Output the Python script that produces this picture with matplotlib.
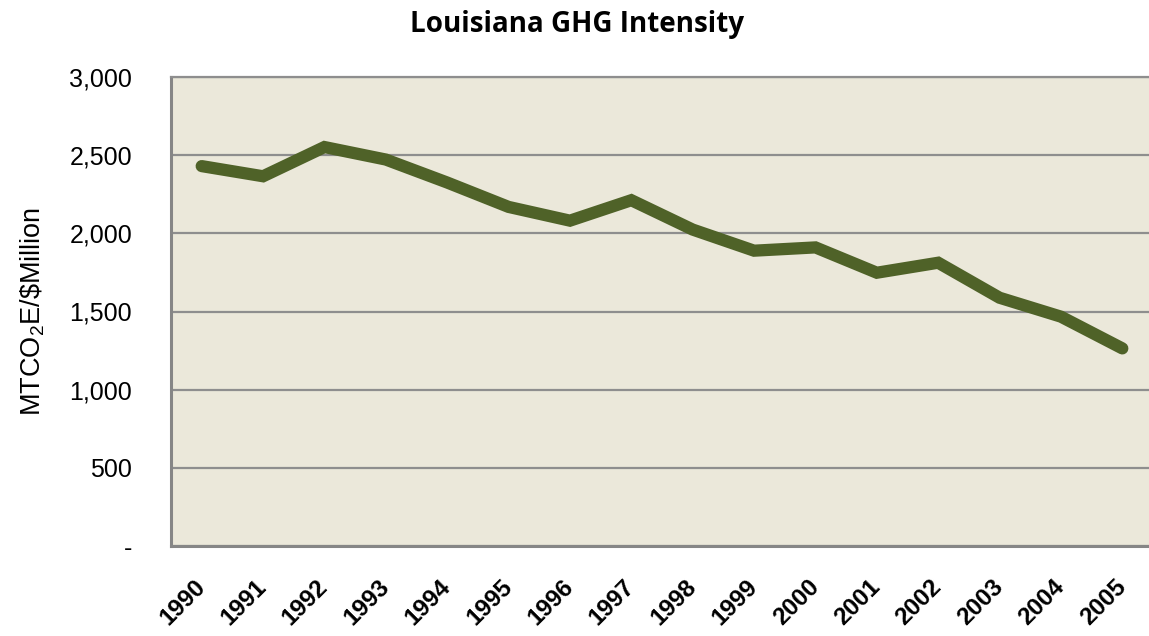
import matplotlib
matplotlib.use("Agg")
import matplotlib.pyplot as plt
from matplotlib.ticker import FuncFormatter

years = ["1990", "1991", "1992", "1993", "1994", "1995", "1996", "1997",
         "1998", "1999", "2000", "2001", "2002", "2003", "2004", "2005"]
intensity = [2430, 2365, 2552, 2472, 2325, 2169, 2081, 2212,
             2024, 1889, 1910, 1748, 1812, 1588, 1467, 1264]
yticks = [0, 500, 1000, 1500, 2000, 2500, 3000]

plt.rcParams["mathtext.fontset"] = "custom"
plt.rcParams["mathtext.rm"] = "Liberation Sans"
plt.rcParams["mathtext.it"] = "Liberation Sans"

base = "Liberation Sans"

fig = plt.figure(figsize=(11.49, 6.36), dpi=100)
ax = fig.add_axes([171 / 1149, 1 - 546 / 636, 982 / 1149, 469 / 636])
ax.set_facecolor("#EBE8DA")

x = list(range(len(years)))
ax.plot(x, intensity, color="#4F6228", lw=8.8, solid_capstyle="round",
        solid_joinstyle="miter", zorder=3)

ax.set_xlim(-0.5, len(years) - 0.5)
ax.set_ylim(0, 3000)
ax.set_yticks(yticks)
ax.yaxis.set_major_formatter(FuncFormatter(lambda v, p: "-" if v == 0 else f"{int(v):,}"))
ax.grid(axis="y", color="#8E8E8E", lw=1.6, zorder=1)
ax.set_axisbelow(True)
ax.spines["right"].set_visible(False)
ax.spines["top"].set_color("#8E8E8E")
ax.spines["top"].set_linewidth(1.6)
for s in ("left", "bottom"):
    ax.spines[s].set_color("#868686")
    ax.spines[s].set_linewidth(2.2)

ax.tick_params(axis="both", length=0)
ax.tick_params(axis="y", pad=28)
for lab in ax.get_yticklabels():
    lab.set_fontfamily(base)
    lab.set_fontsize(18)

ax.set_xticks(x)
ax.set_xticklabels(years, rotation=45, ha="right", va="center", rotation_mode="anchor",
                   fontfamily=base, fontweight="bold", fontsize=17.5)
ax.tick_params(axis="x", pad=27)

ax.set_ylabel(r"MTCO$_2$E/\$Million", fontfamily=base, fontsize=19.5, labelpad=16)

fig.text(0.502, 0.962, "Louisiana GHG Intensity", ha="center", va="center",
         fontfamily="Open Sans", fontweight="bold", fontsize=20)

fig.savefig("out.png", dpi=100)
